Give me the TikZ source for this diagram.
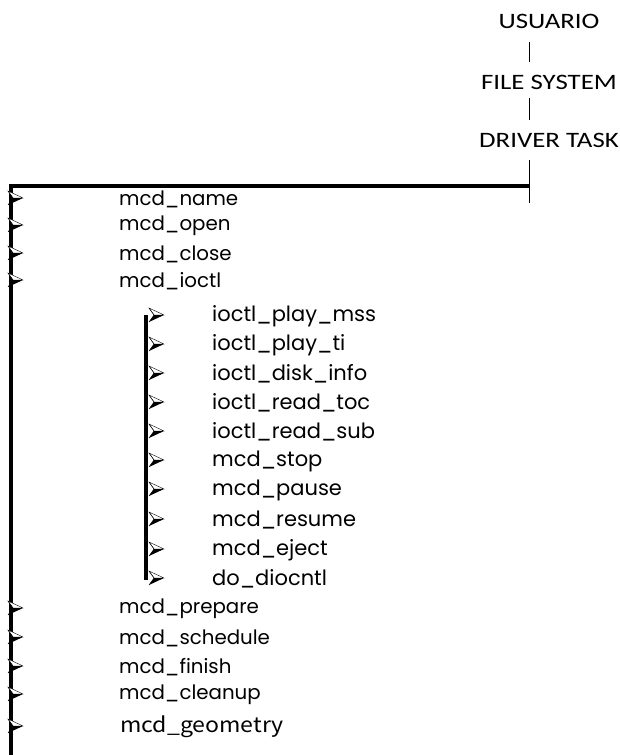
\documentclass[tikz,border=0pt]{standalone}
\usepackage{fontspec}
\newfontfamily\headfont[FakeStretch=1.22]{Carlito}
\newfontfamily\listfont{Poppins}
\newfontfamily\altfont[FakeStretch=1.1]{Noto Sans CJK JP}
\begin{document}
\begin{tikzpicture}[x=1pt,y=-1pt,
  head/.style={font=\headfont\fontsize{22}{26}\selectfont, inner sep=0pt},
  item/.style={font=\listfont\fontsize{19.8}{22}\selectfont, inner sep=0pt, anchor=west},
  subitem/.style={font=\listfont\fontsize{21}{24}\selectfont, inner sep=0pt, anchor=west},
  altitem/.style={font=\altfont\fontsize{21}{23}\selectfont, inner sep=0pt, anchor=west},
  link/.style={line width=0.8pt},
  bar/.style={line width=4pt},
  arrowbullet/.pic={
    \draw[line width=0.4pt, fill=white] (0,0) -- (-15,-7) -- (-10,0) -- cycle;
    \fill (0,0) -- (-15,7) -- (-10,0) -- cycle;
    \draw[line width=0.4pt] (-15,-7) -- (-10,0) -- (-15,7);
  }]
\useasboundingbox (0,0) rectangle (619,755);

% hierarchy at the top right
\node[head] (usr) at (549,21) {USUARIO};
\node[head] (fs)  at (549,82) {FILE SYSTEM};
\node[head] (drv) at (549,140) {DRIVER TASK};
\coordinate (d1) at (529,160);
\coordinate (d2) at (529,203);
\coordinate (corner) at (529,186);
\coordinate (topleft) at (9,186);
\coordinate (bottomleft) at (11,755);
\draw[link] (529,42) -- (529,62);
\draw[link] (529,98) -- (529,120);
\draw[link] (d1) -- (d2);
\draw[bar] (corner) -- (topleft);
\draw[bar] (11,184) -- (bottomleft);

% driver entry points
\foreach \n/\y/\t in {a/199/mcd\_name, b/226/mcd\_open, c/254/mcd\_close, d/281/mcd\_ioctl,
                       e/609/mcd\_prepare, f/638/mcd\_schedule, g/667/mcd\_finish,
                       h/695/mcd\_cleanup}{
  \node[item] (\n) at (119,\y) {\t};
  \pic at (23,\y-1) {arrowbullet};
}
\node[altitem] (i) at (120,727) {mcd\_geometry};
\pic at (23,726) {arrowbullet};

% ioctl sub-functions
\coordinate (s1) at (145.5,315);
\coordinate (s2) at (145.5,580);
\draw[bar] (s1) -- (s2);
\foreach \n/\y/\t in {p/316/ioctl\_play\_mss, q/345/ioctl\_play\_ti, r/374/ioctl\_disk\_info,
                       s/403/ioctl\_read\_toc, t/432/ioctl\_read\_sub, u/461/mcd\_stop,
                       v/490/mcd\_pause, w/520/mcd\_resume, x/550/mcd\_eject, y/579/do\_diocntl}{
  \node[subitem] (\n) at (212,\y) {\t};
  \pic at (164,\y-1) {arrowbullet};
}
\end{tikzpicture}
\end{document}
